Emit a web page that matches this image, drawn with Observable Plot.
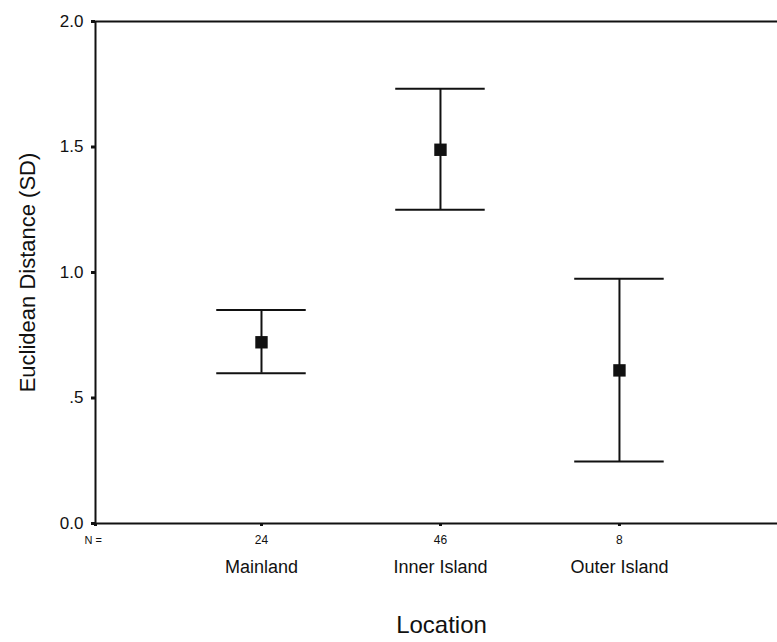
<!DOCTYPE html>
<html>
<head>
<meta charset="utf-8">
<script src="https://cdn.jsdelivr.net/npm/d3@7"></script>
<script src="https://cdn.jsdelivr.net/npm/@observablehq/plot@0.6"></script>
<style>
  html, body { margin: 0; padding: 0; background: #fff; }
  #chart svg { display: block; }
</style>
</head>
<body>
<div id="chart"></div>
<script>
const categories = ["Mainland", "Inner Island", "Outer Island"];
const nValues = [24, 46, 8];
const means = [0.722, 1.489, 0.610];
const lower = [0.599, 1.250, 0.247];
const upper = [0.851, 1.732, 0.975];
const yTicks = [0, 0.5, 1.0, 1.5, 2.0];
const yTickLabels = ["0.0", ".5", "1.0", "1.5", "2.0"];
const xDomain = [0.0726, 3.883];
const capHalf = 0.25;

const data = categories.map((c, i) => ({
  cat: c, pos: i + 1, n: nValues[i], mean: means[i], lo: lower[i], hi: upper[i]
}));

const font = "'Liberation Sans', Arial, Helvetica, sans-serif";

const chart = Plot.plot({
  width: 777,
  height: 642,
  marginLeft: 95,
  marginRight: 0,
  marginTop: 21,
  marginBottom: 119,
  style: { fontFamily: font, background: "#fff", color: "#111" },
  x: { domain: xDomain },
  y: { domain: [0, 2] },
  marks: [
    Plot.axisY({ ticks: yTicks, tickSize: 4, tickPadding: 8, strokeWidth: 3, fontSize: 17,
      tickFormat: d => yTickLabels[yTicks.indexOf(d)], label: null }),
    Plot.axisX({ ticks: [xDomain[0], 1, 2, 3], tickSize: 3, strokeWidth: 3, tickFormat: () => "", label: null }),
    Plot.ruleY([0], { stroke: "#111", strokeWidth: 2 }),
    Plot.ruleY([2], { stroke: "#111", strokeWidth: 2 }),
    Plot.ruleX([xDomain[0]], { stroke: "#111", strokeWidth: 2 }),
    Plot.ruleX(data, { x: "pos", y1: "lo", y2: "hi", stroke: "#111", strokeWidth: 2 }),
    Plot.ruleY(data, { y: "hi", x1: d => d.pos - capHalf, x2: d => d.pos + capHalf, stroke: "#111", strokeWidth: 2 }),
    Plot.ruleY(data, { y: "lo", x1: d => d.pos - capHalf, x2: d => d.pos + capHalf, stroke: "#111", strokeWidth: 2 }),
    Plot.dot(data, { x: "pos", y: "mean", symbol: "square", r: 7, fill: "#111", stroke: "none" }),
    Plot.text(data, { x: "pos", text: d => String(d.n), frameAnchor: "bottom", dy: 20, fontSize: 12, fill: "#111" }),
    Plot.text(["N ="], { frameAnchor: "bottom-left", dx: -11, dy: 20, textAnchor: "start", fontSize: 11, fill: "#111" }),
    Plot.text(data, { x: "pos", text: "cat", frameAnchor: "bottom", dy: 49, fontSize: 18, fill: "#111" }),
    Plot.text(["Location"], { frameAnchor: "bottom", dx: 5, dy: 109, fontSize: 24, fill: "#111" }),
    Plot.text(["Euclidean Distance (SD)"], { frameAnchor: "left", dx: -68, rotate: -90, textAnchor: "middle", fontSize: 22, fill: "#111" })
  ]
});
document.getElementById("chart").appendChild(chart);
</script>
</body>
</html>
